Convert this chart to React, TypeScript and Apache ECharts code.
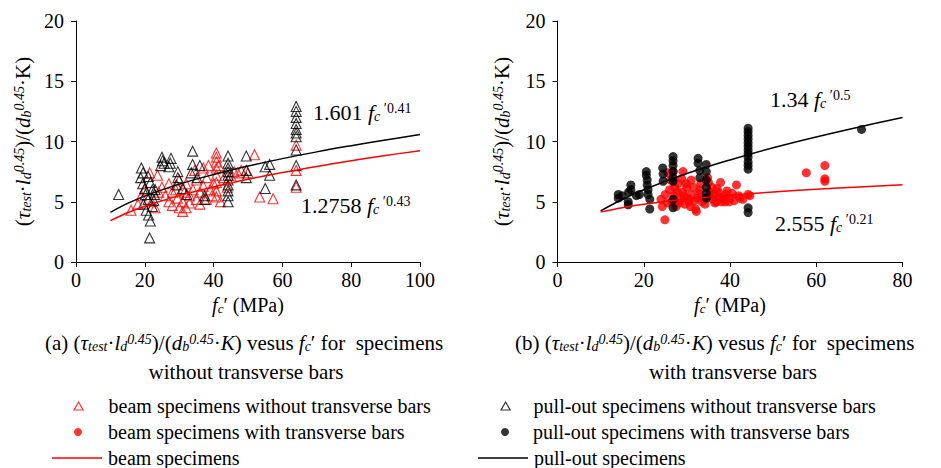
import React, { useEffect, useRef } from "react";
import * as echarts from "echarts";

const SERIF = "'Liberation Serif', 'Times New Roman', serif";

// (a) specimens without transverse bars
const beamNoTransA: [number, number][] = [
  [16.0, 4.3], [18.0, 4.8], [19.0, 5.5], [20.0, 6.0], [21.4, 7.4], [23.7, 7.2], [22.0, 5.0], [23.0, 4.5],
  [24.0, 5.8], [25.0, 6.2], [26.0, 5.5], [27.0, 6.5], [27.0, 5.0], [28.0, 5.8], [28.0, 4.7], [29.0, 6.0],
  [29.5, 5.3], [30.0, 4.5], [30.0, 6.8], [31.0, 5.0], [31.0, 4.2], [31.5, 5.8], [32.0, 4.5], [32.0, 6.5],
  [33.0, 5.5], [33.0, 4.9], [34.0, 6.0], [34.5, 7.6], [35.0, 5.2], [35.0, 6.8], [36.0, 4.8], [36.0, 5.8],
  [37.0, 7.8], [37.0, 6.3], [37.9, 5.2], [38.0, 7.0], [38.5, 8.0], [39.0, 6.0], [39.5, 5.5], [40.0, 6.5],
  [40.8, 9.05], [40.8, 8.7], [40.8, 8.3], [40.8, 7.8], [40.8, 7.2], [40.8, 6.6], [40.8, 5.9], [40.8, 5.4],
  [41.5, 8.0], [42.0, 5.0], [43.0, 7.0], [44.0, 6.2], [45.0, 7.2], [46.0, 7.5], [47.0, 7.4], [48.0, 7.6],
  [50.0, 7.4], [51.9, 8.9], [53.4, 5.4], [57.3, 5.25], [64.0, 9.7], [64.0, 7.6], [64.0, 6.2],
];
const pullNoTransA: [number, number][] = [
  [12.4, 5.6],
  [19.0, 7.8], [19.5, 7.4], [18.8, 7.0], [19.4, 6.5], [20.0, 6.1], [21.0, 7.1], [21.6, 6.6], [22.2, 6.0],
  [20.2, 5.6], [21.0, 5.2], [19.6, 4.8], [20.4, 4.3], [21.1, 3.9], [22.2, 4.6], [22.6, 5.1], [22.8, 5.6],
  [21.6, 3.4], [21.4, 2.0], [23.0, 6.0],
  [24.6, 8.0], [25.2, 8.4], [25.0, 8.7], [27.6, 8.6], [27.4, 8.2], [27.0, 7.9], [25.6, 8.2],
  [29.6, 7.5], [29.6, 7.0], [29.2, 6.4], [31.0, 6.1], [32.2, 5.6], [33.9, 9.2], [33.9, 8.1], [33.5, 7.4],
  [35.2, 7.0], [37.4, 5.5], [37.4, 5.2], [36.0, 8.0],
  [44.2, 8.8], [44.2, 8.2], [44.2, 7.8], [44.2, 7.5], [44.2, 7.2], [44.2, 6.8], [44.2, 6.4], [44.2, 5.9],
  [44.2, 5.5], [44.2, 5.0],
  [49.5, 8.8], [49.5, 7.6], [49.5, 7.0],
  [55.0, 7.9], [56.3, 8.1], [56.3, 7.2], [55.0, 6.1],
  [64.0, 12.9], [64.0, 12.5], [64.0, 12.0], [64.0, 11.5], [64.0, 11.0], [64.0, 10.7], [64.0, 10.4],
  [64.0, 9.3], [64.0, 8.0], [64.0, 6.4],
];

// (b) specimens with transverse bars
const beamTransB: [number, number][] = [
  [24.3, 4.6], [24.9, 3.5], [25.6, 7.4], [26.8, 7.5], [29.1, 7.5], [26.0, 6.0], [27.0, 5.5], [27.5, 4.6],
  [28.0, 6.5], [28.5, 5.2], [29.0, 5.8], [29.5, 4.8], [30.0, 6.2], [30.5, 5.0], [31.0, 5.6], [31.0, 6.8],
  [32.0, 4.4], [32.2, 4.2], [32.5, 5.3], [33.0, 6.0], [33.5, 5.0], [35.0, 6.6], [35.5, 5.8], [36.0, 5.2],
  [36.5, 4.9], [37.0, 6.1], [37.5, 5.4], [38.0, 5.0], [39.0, 5.6], [40.0, 5.3], [41.5, 6.4], [42.3, 5.3],
  [43.0, 5.2], [44.2, 5.6], [44.6, 5.5], [57.7, 7.4], [62.0, 8.0], [62.0, 6.9], [62.0, 6.7],
  [26.5, 5.0], [27.2, 6.2], [27.8, 5.8], [28.2, 4.9], [28.8, 6.9], [29.3, 5.5], [29.8, 6.5], [30.2, 5.3],
  [30.8, 4.6], [31.5, 6.2], [31.8, 5.1], [32.8, 5.7], [33.2, 6.5], [33.8, 5.3], [34.2, 4.8], [35.3, 5.5],
  [35.8, 6.2], [36.3, 5.6], [36.8, 5.0], [37.3, 5.8], [37.8, 6.6], [38.3, 5.3], [38.8, 5.0], [39.3, 5.9],
  [39.8, 5.0], [40.5, 5.7], [41.0, 5.1], [42.0, 5.5], [24.0, 5.2], [25.0, 5.6], [25.5, 4.9], [26.2, 6.8],
  [34.8, 7.0],
];
const pullTransB: [number, number][] = [
  [14.1, 5.6], [14.1, 5.3], [15.0, 5.5], [16.4, 5.0], [16.4, 4.75], [16.5, 5.8], [17.0, 6.4], [17.0, 6.0],
  [18.3, 5.5], [19.0, 5.6], [20.6, 7.5], [20.6, 7.2], [20.8, 6.8], [20.8, 6.4], [21.0, 6.0], [21.0, 5.6],
  [21.4, 5.2], [21.4, 4.4], [24.4, 7.8], [24.5, 7.3], [24.5, 6.7], [26.8, 8.75], [26.8, 8.4], [26.8, 8.0],
  [26.8, 7.5], [26.8, 7.0], [26.8, 6.7], [26.8, 5.2], [26.8, 4.5], [32.6, 8.6], [32.6, 8.2], [33.0, 7.6],
  [33.0, 7.0], [34.5, 8.1], [34.5, 7.5], [34.5, 6.8], [34.5, 6.2], [34.5, 5.7], [34.5, 5.3],
  [44.2, 11.1], [44.2, 10.8], [44.2, 10.5], [44.2, 10.2], [44.2, 9.9], [44.2, 9.6], [44.2, 9.3], [44.2, 9.0],
  [44.2, 8.7], [44.2, 8.3], [44.2, 8.0], [44.2, 7.7], [44.2, 4.5], [44.2, 4.1], [70.5, 11.0],
];

// fitted curves
const fitXA = [10, 15, 20, 30, 40, 50, 60, 70, 80, 90, 100];
const fitBeamA = [3.43, 4.09, 4.63, 5.51, 6.23, 6.86, 7.42, 7.93, 8.4, 8.84, 9.24];
const fitPullA = [4.12, 4.86, 5.47, 6.46, 7.26, 7.96, 8.58, 9.14, 9.65, 10.13, 10.58];
const fitXB = [10, 15, 20, 30, 40, 50, 60, 70, 80];
const fitBeamB = [4.14, 4.51, 4.79, 5.22, 5.54, 5.81, 6.04, 6.23, 6.41];
const fitPullB = [4.24, 5.19, 5.99, 7.34, 8.47, 9.48, 10.38, 11.21, 11.99];

const RED = "#ff0000";
const BLACK = "#000000";

const richSet = (size: number, small: number) => ({
  n: { fontFamily: SERIF, fontSize: size, fill: BLACK, color: BLACK },
  i: { fontFamily: SERIF, fontSize: size, fontStyle: "italic", fill: BLACK, color: BLACK },
  sub: { fontFamily: SERIF, fontSize: small, fontStyle: "italic", verticalAlign: "bottom", fill: BLACK, color: BLACK },
  sup: { fontFamily: SERIF, fontSize: small, fontStyle: "italic", verticalAlign: "top", fill: BLACK, color: BLACK },
  up: { fontFamily: SERIF, fontSize: small, verticalAlign: "top", fill: BLACK, color: BLACK },
});

const yName = "{n|(}{i|τ}{sub|test}{n|·}{i|l}{sub|d}{sup|0.45}{n|)/(}{i|d}{sub|b}{sup|0.45}{n|·K)}";
const xName = "{i|f}{sub|c}{n|′ (MPa)}";
const captionA = "{n|(a) (}{i|τ}{sub|test}{n|·}{i|l}{sub|d}{sup|0.45}{n|)/(}{i|d}{sub|b}{sup|0.45}{n|·}{i|K}{n|) vesus }{i|f}{sub|c}{n|′ for  specimens}";
const captionB = "{n|(b) (}{i|τ}{sub|test}{n|·}{i|l}{sub|d}{sup|0.45}{n|)/(}{i|d}{sub|b}{sup|0.45}{n|·}{i|K}{n|) vesus }{i|f}{sub|c}{n|′ for  specimens}";

const zip = (xs: number[], ys: number[]) => xs.map((x, k) => [x, ys[k]]);

export default function App() {
  const ref = useRef<HTMLDivElement>(null);
  useEffect(() => {
    if (!ref.current) return;
    const chart = echarts.init(ref.current, undefined, { renderer: "svg" });
    const axisCommon = {
      axisLine: { show: true, lineStyle: { color: BLACK, width: 1 } },
      axisTick: { show: true, inside: false, length: 5, lineStyle: { color: BLACK } },
      axisLabel: { color: BLACK, fontFamily: SERIF, fontSize: 20 },
      splitLine: { show: false },
    };
    const richAxis = richSet(20, 13);
    const richY = richSet(21, 14);
    const richCap = richSet(21, 14);
    const richFit = richSet(22, 14);
    const fitLabel = (x: number, y: number, coef: string, exp: string) => ({
      type: "text",
      x,
      y,
      style: {
        text: `{n|${coef} }{i|f}{sub|c}{up| ′${exp}}`,
        rich: richFit,
        align: "left",
        verticalAlign: "middle",
      },
    });
    const legendItem = (
      left: number,
      top: number,
      w: number,
      h: number,
      name: string,
      pad: number,
      icon?: string
    ) => ({
      left,
      top,
      orient: "horizontal",
      padding: 0,
      itemWidth: w,
      itemHeight: h,
      selectedMode: false,
      data: [icon ? { name, icon } : name],
      textStyle: { color: BLACK, fontFamily: SERIF, fontSize: 20, padding: [0, 0, 0, pad] },
      itemStyle: { borderWidth: icon ? 0 : 1.2 },
    });
    chart.setOption({
      animation: false,
      backgroundColor: "#ffffff",
      grid: [
        { left: 76, top: 21, width: 344, height: 241 },
        { left: 557.5, top: 21, width: 345, height: 241 },
      ],
      xAxis: [
        {
          ...axisCommon,
          gridIndex: 0,
          type: "value",
          min: 0,
          max: 100,
          interval: 20,
          axisLabel: { ...axisCommon.axisLabel, margin: 8 },
          name: xName,
          nameLocation: "middle",
          nameGap: 33,
          nameTextStyle: { rich: richAxis },
        },
        {
          ...axisCommon,
          gridIndex: 1,
          type: "value",
          min: 0,
          max: 80,
          interval: 20,
          axisLabel: { ...axisCommon.axisLabel, margin: 8 },
          name: xName,
          nameLocation: "middle",
          nameGap: 33,
          nameTextStyle: { rich: richAxis },
        },
      ],
      yAxis: [
        {
          ...axisCommon,
          gridIndex: 0,
          type: "value",
          min: 0,
          max: 20,
          interval: 5,
          axisLabel: { ...axisCommon.axisLabel, margin: 12 },
          name: yName,
          nameLocation: "middle",
          nameRotate: 90,
          nameGap: 43,
          nameTextStyle: { rich: richY },
        },
        {
          ...axisCommon,
          gridIndex: 1,
          type: "value",
          min: 0,
          max: 20,
          interval: 5,
          axisLabel: { ...axisCommon.axisLabel, margin: 12 },
          name: yName,
          nameLocation: "middle",
          nameRotate: 90,
          nameGap: 45,
          nameTextStyle: { rich: richY },
        },
      ],
      legend: [
        legendItem(73.5, 396, 9, 8, "beam specimens without transverse bars", 20.5),
        legendItem(74, 422, 8, 8, "beam specimens with transverse bars", 21),
        legendItem(52, 448, 50, 1.5, "beam specimens", 1, "rect"),
        legendItem(500.5, 396, 9, 8, "pull-out specimens without transverse bars", 18.5),
        legendItem(501, 422, 8, 8, "pull-out specimens with transverse bars", 19),
        legendItem(478, 448, 50, 1.5, "pull-out specimens", 1, "rect"),
      ],
      series: [
        {
          type: "scatter",
          name: "beam specimens without transverse bars",
          xAxisIndex: 0,
          yAxisIndex: 0,
          symbol: "triangle",
          symbolSize: 10,
          itemStyle: { color: "rgba(255,255,255,0)", borderColor: RED, borderWidth: 1.1 },
          data: beamNoTransA,
          z: 2,
        },
        {
          type: "scatter",
          name: "pull-out specimens without transverse bars",
          xAxisIndex: 0,
          yAxisIndex: 0,
          symbol: "triangle",
          symbolSize: 10,
          itemStyle: { color: "rgba(255,255,255,0)", borderColor: BLACK, borderWidth: 1.1 },
          data: pullNoTransA,
          z: 2,
        },
        {
          type: "line",
          name: "beam specimens",
          xAxisIndex: 0,
          yAxisIndex: 0,
          symbol: "none",
          smooth: 0.4,
          lineStyle: { color: RED, width: 1.5 },
          itemStyle: { color: RED },
          data: zip(fitXA, fitBeamA),
          z: 3,
        },
        {
          type: "line",
          name: "pull-out specimens",
          xAxisIndex: 0,
          yAxisIndex: 0,
          symbol: "none",
          smooth: 0.4,
          lineStyle: { color: BLACK, width: 1.5 },
          itemStyle: { color: BLACK },
          data: zip(fitXA, fitPullA),
          z: 3,
        },
        {
          type: "scatter",
          name: "beam specimens with transverse bars",
          xAxisIndex: 1,
          yAxisIndex: 1,
          symbol: "circle",
          symbolSize: 9,
          itemStyle: { color: RED, borderWidth: 0 },
          data: beamTransB,
          z: 2,
        },
        {
          type: "scatter",
          name: "pull-out specimens with transverse bars",
          xAxisIndex: 1,
          yAxisIndex: 1,
          symbol: "circle",
          symbolSize: 9,
          itemStyle: { color: BLACK, borderWidth: 0 },
          data: pullTransB,
          z: 2,
        },
        {
          type: "line",
          name: "beam specimens",
          xAxisIndex: 1,
          yAxisIndex: 1,
          symbol: "none",
          smooth: 0.4,
          lineStyle: { color: RED, width: 1.5 },
          itemStyle: { color: RED },
          data: zip(fitXB, fitBeamB),
          z: 3,
        },
        {
          type: "line",
          name: "pull-out specimens",
          xAxisIndex: 1,
          yAxisIndex: 1,
          symbol: "none",
          smooth: 0.4,
          lineStyle: { color: BLACK, width: 1.5 },
          itemStyle: { color: BLACK },
          data: zip(fitXB, fitPullB),
          z: 3,
        },
      ],
      graphic: [
        fitLabel(313, 112, "1.601", "0.41"),
        fitLabel(301, 205, "1.2758", "0.43"),
        fitLabel(770, 99, "1.34", "0.5"),
        fitLabel(775, 223, "2.555", "0.21"),
        {
          type: "text",
          x: 45,
          y: 343,
          style: { text: captionA, rich: richCap, align: "left", verticalAlign: "middle" },
        },
        {
          type: "text",
          x: 246,
          y: 372,
          style: { text: "{n|without transverse bars}", rich: richCap, align: "center", verticalAlign: "middle" },
        },
        {
          type: "text",
          x: 515,
          y: 343,
          style: { text: captionB, rich: richCap, align: "left", verticalAlign: "middle" },
        },
        {
          type: "text",
          x: 733,
          y: 372,
          style: { text: "{n|with transverse bars}", rich: richCap, align: "center", verticalAlign: "middle" },
        },
      ],
    });
    return () => chart.dispose();
  }, []);
  return <div ref={ref} style={{ width: 941, height: 468, position: "absolute", left: 0, top: 0 }} />;
}
